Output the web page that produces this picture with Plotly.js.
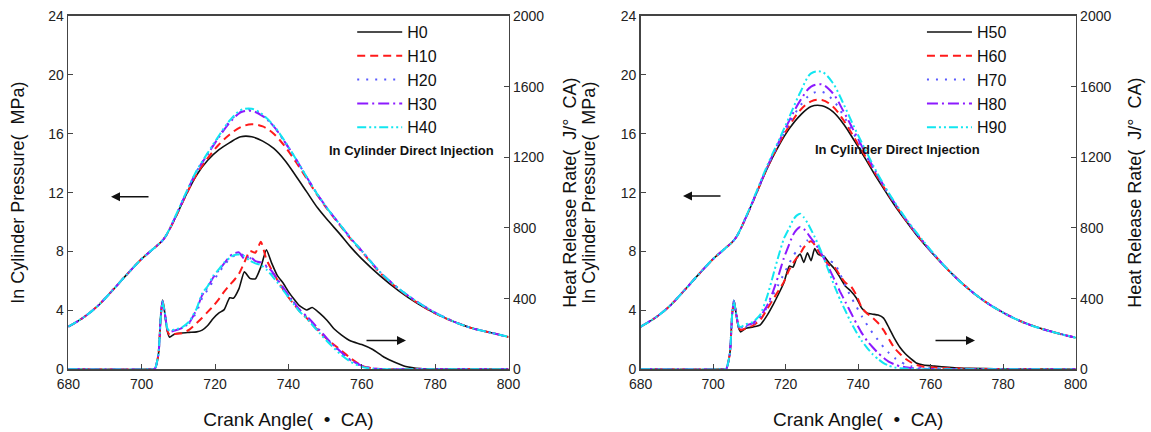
<!DOCTYPE html>
<html><head><meta charset="utf-8">
<script src="https://cdn.plot.ly/plotly-3.0.1.min.js"></script>
<style>html,body{margin:0;padding:0;background:#fff}#chart{width:1151px;height:432px}</style>
</head><body><div id="chart"></div>
<script>
// Crank angle samples for in-cylinder pressure (both panels)
const crankP = [680,684,688,692,696,700,703,706,709,712,715,718,721,724,727,730,733,736,739,742,745,748,751,754,757,760,765,770,775,780,785,790,795,800];
// Left panel pressure (MPa)
const pH0  = [2.9,3.5,4.3,5.35,6.45,7.5,8.15,8.85,10.2,11.8,13.2,14.2,14.9,15.4,15.8,15.8,15.5,15.0,14.2,13.15,12.05,10.95,10.05,9.2,8.3,7.5,6.35,5.35,4.5,3.8,3.25,2.8,2.5,2.2];
const pH10 = [2.9,3.5,4.3,5.35,6.45,7.5,8.15,8.85,10.2,11.8,13.25,14.35,15.25,15.95,16.45,16.65,16.5,16.0,15.15,14.1,12.95,11.8,10.75,9.8,8.85,8.0,6.55,5.45,4.55,3.8,3.25,2.8,2.5,2.2];
const pH20 = [2.9,3.5,4.3,5.35,6.45,7.5,8.15,8.85,10.25,11.9,13.45,14.65,15.8,16.85,17.5,17.65,17.25,16.5,15.45,14.3,13.05,11.85,10.8,9.85,8.9,8.05,6.6,5.5,4.6,3.85,3.25,2.8,2.5,2.2];
const pH30 = [2.9,3.5,4.3,5.35,6.45,7.5,8.15,8.85,10.25,11.9,13.45,14.6,15.75,16.75,17.45,17.55,17.2,16.5,15.45,14.3,13.05,11.85,10.8,9.85,8.9,8.05,6.6,5.5,4.6,3.85,3.25,2.8,2.5,2.2];
const pH40 = [2.9,3.5,4.3,5.35,6.45,7.5,8.15,8.85,10.3,11.95,13.5,14.7,15.85,16.9,17.6,17.7,17.3,16.55,15.5,14.3,13.05,11.85,10.8,9.85,8.9,8.05,6.6,5.5,4.6,3.85,3.25,2.8,2.5,2.2];
// Right panel pressure (MPa)
const pH50 = [2.9,3.5,4.3,5.35,6.45,7.5,8.15,8.85,10.3,12.0,13.7,15.15,16.35,17.25,17.85,17.9,17.5,16.65,15.5,14.3,13.05,11.9,10.8,9.8,8.85,8.0,6.7,5.55,4.6,3.85,3.25,2.8,2.45,2.15];
const pH60 = [2.9,3.5,4.3,5.35,6.45,7.5,8.15,8.85,10.3,12.0,13.75,15.25,16.55,17.6,18.2,18.3,17.85,16.9,15.7,14.45,13.2,12.0,10.9,9.85,8.9,8.05,6.7,5.55,4.6,3.85,3.25,2.8,2.45,2.15];
const pH70 = [2.9,3.5,4.3,5.35,6.45,7.5,8.15,8.85,10.3,12.0,13.75,15.3,16.7,17.9,18.7,18.85,18.3,17.2,15.9,14.6,13.3,12.05,10.95,9.9,8.95,8.05,6.7,5.55,4.6,3.85,3.25,2.8,2.45,2.15];
const pH80 = [2.9,3.5,4.3,5.35,6.45,7.5,8.15,8.85,10.3,12.05,13.8,15.4,16.9,18.25,19.2,19.35,18.75,17.5,16.1,14.7,13.35,12.1,10.95,9.9,8.95,8.05,6.7,5.55,4.6,3.85,3.25,2.8,2.45,2.15];
const pH90 = [2.9,3.5,4.3,5.35,6.45,7.5,8.15,8.85,10.35,12.1,13.9,15.5,17.15,18.8,20.1,20.2,19.45,18.0,16.4,14.9,13.45,12.15,11.0,9.95,9.0,8.1,6.7,5.55,4.6,3.85,3.25,2.8,2.45,2.15];

// Heat release rate (J/°CA), left panel
const crankHL = [680,702,703.6,704.6,705.2,705.7,706.3,707,707.6,709,711,713,715,716.5,718,719.5,721,722.5,724,725,726.5,728,729.5,731,732.5,734,735.5,737,738.5,740,741.5,743,745,746.5,748.5,750.5,752.5,754.5,757,760,763,766,769,772,776,780,800];
const hH0  = [0,0,3,90,300,392,320,215,182,200,206,209,212,222,248,288,318,338,405,402,455,552,515,512,580,676,598,530,490,440,398,360,336,350,318,278,228,194,160,140,112,70,40,16,4,1,0];
const hH10 = [0,0,3,90,300,388,318,220,195,200,204,225,262,292,325,358,396,440,478,500,540,605,670,660,722,622,560,505,455,408,368,330,290,255,212,172,138,105,62,20,5,1,0,0,0,0,0];
const hH20 = [0,0,3,90,300,385,320,230,215,222,235,262,325,405,450,500,545,590,625,640,652,645,630,615,600,580,545,505,462,420,380,340,295,262,217,172,130,92,50,18,4,1,0,0,0,0,0];
const hH30 = [0,0,3,90,300,386,320,228,212,220,233,265,340,420,465,520,560,600,640,655,662,625,640,612,605,585,555,510,465,420,378,338,300,268,222,175,133,95,52,20,5,1,0,0,0,0,0];
const hH40 = [0,0,3,90,300,384,320,232,218,225,238,272,345,430,470,530,565,605,630,645,650,640,615,600,590,565,530,492,450,408,368,328,288,252,205,160,118,80,42,14,3,1,0,0,0,0,0];

// Heat release rate (J/°CA), right panel
const crankHR = [680,702,703.6,704.6,705.2,705.7,706.3,707,707.6,709,711,713,715,716.5,718,719.5,721,722,723,724,725,726,727,728,729,730.5,732,733.5,735,736.5,738,739.5,741,742.5,744,745.5,747,748.5,750,751.5,753,754.5,756,758,761,765,770,780,800];
const hH50 = [0,0,3,90,300,390,320,235,212,232,240,252,310,365,425,490,585,578,628,652,605,660,615,683,650,640,602,568,520,470,442,404,345,318,312,307,290,235,175,125,88,60,36,24,18,12,6,2,0];
const hH60 = [0,0,3,90,300,388,320,238,222,232,248,280,345,395,445,495,565,600,630,655,690,715,725,705,670,625,590,578,530,490,470,420,348,315,292,262,222,170,120,88,60,40,25,15,10,6,3,1,0];
const hH70 = [0,0,3,90,300,388,320,240,228,240,255,295,355,420,480,540,600,640,670,695,715,730,740,720,690,640,615,600,540,470,410,355,300,250,205,165,125,92,65,44,28,18,12,8,5,3,1,0,0];
const hH80 = [0,0,3,90,300,388,320,245,235,248,262,300,365,440,530,630,710,760,790,805,795,770,742,715,685,630,570,505,440,380,320,260,205,160,125,92,65,42,28,18,12,8,5,3,2,1,0,0,0];
const hH90 = [0,0,3,90,300,388,320,248,240,255,268,310,420,530,640,740,800,845,870,881,860,830,790,750,705,630,548,470,395,330,265,210,160,120,85,58,35,20,11,6,4,2,1,0,0,0,0,0,0];

const namesL = ['H0','H10','H20','H30','H40'];
const namesR = ['H50','H60','H70','H80','H90'];
const colors = ['#111111','#ff1a1a','#5a5aff','#8c1aff','#12e6f0'];
const dashes = ['solid','8px,5px','2px,7px','11px,4px,2px,4px','9px,3px,2px,3px,2px,3px'];
const widths = [1.6,2,2,2,2];

const pL = [pH0,pH10,pH20,pH30,pH40];
const pR = [pH50,pH60,pH70,pH80,pH90];
const hL = [hH0,hH10,hH20,hH30,hH40];
const hR = [hH50,hH60,hH70,hH80,hH90];

const traces = [];
for (let i = 0; i < 5; i++) {
  traces.push({x: crankHL, y: hL[i], xaxis:'x', yaxis:'y2', type:'scatter', mode:'lines',
    line:{color:colors[i], dash:dashes[i], width:widths[i], shape:'spline', smoothing:0.5}, showlegend:false, hoverinfo:'skip'});
  traces.push({x: crankHR, y: hR[i], xaxis:'x2', yaxis:'y4', type:'scatter', mode:'lines',
    line:{color:colors[i], dash:dashes[i], width:widths[i], shape:'spline', smoothing:0.5}, showlegend:false, hoverinfo:'skip'});
}
for (let i = 0; i < 5; i++) {
  traces.push({x: crankP, y: pL[i], name: namesL[i], xaxis:'x', yaxis:'y', type:'scatter', mode:'lines',
    line:{color:colors[i], dash:dashes[i], width:widths[i], shape:'spline', smoothing:1}, legend:'legend'});
  traces.push({x: crankP, y: pR[i], name: namesR[i], xaxis:'x2', yaxis:'y3', type:'scatter', mode:'lines',
    line:{color:colors[i], dash:dashes[i], width:widths[i], shape:'spline', smoothing:1}, legend:'legend2'});
}

const tickFont = {family:'Liberation Sans, Arial, sans-serif', size:14, color:'#222'};
const titleFont = {family:'Liberation Sans, Arial, sans-serif', size:18, color:'#111'};
const xTitleFont = {family:'Liberation Sans, Arial, sans-serif', size:19, color:'#111'};
const axLine = {showline:true, linecolor:'#444', linewidth:1.6, ticks:'inside', ticklen:5, tickcolor:'#444',
  showgrid:false, zeroline:false, tickfont:tickFont};

const domY = [0.1451, 0.9630];
const layout = {
  width:1151, height:432, margin:{l:0,r:0,t:0,b:0}, paper_bgcolor:'#fff', plot_bgcolor:'#fff',
  showlegend:true,
  xaxis: Object.assign({}, axLine, {domain:[0.05934,0.44179], range:[680,800], tickvals:[680,700,720,740,760,780,800], mirror:true, anchor:'y',
    ticklabelstandoff:1, title:{text:'Crank Angle(  •  CA)', font:xTitleFont, standoff:22}}),
  yaxis: Object.assign({}, axLine, {domain:domY, range:[0,24], tickvals:[0,4,8,12,16,20,24], anchor:'x',
    title:{text:'In Cylinder Pressure(  MPa)', font:titleFont, standoff:19}}),
  yaxis2: Object.assign({}, axLine, {domain:domY, range:[0,2000], tickvals:[0,400,800,1200,1600,2000], overlaying:'y', side:'right', anchor:'x',
    title:{text:'Heat Release Rate(  J/°  CA)', font:titleFont, standoff:20}}),
  xaxis2: Object.assign({}, axLine, {domain:[0.55664,0.93458], range:[680,800], tickvals:[680,700,720,740,760,780,800], mirror:true, anchor:'y3',
    ticklabelstandoff:1, title:{text:'Crank Angle(  •  CA)', font:xTitleFont, standoff:22}}),
  yaxis3: Object.assign({}, axLine, {domain:domY, range:[0,24], tickvals:[0,4,8,12,16,20,24], anchor:'x2',
    title:{text:'In Cylinder Pressure(  MPa)', font:titleFont, standoff:20}}),
  yaxis4: Object.assign({}, axLine, {domain:domY, range:[0,2000], tickvals:[0,400,800,1200,1600,2000], overlaying:'y3', side:'right', anchor:'x2',
    title:{text:'Heat Release Rate(  J/°  CA)', font:titleFont, standoff:18}}),
  legend: {x:0.306, y:0.965, xanchor:'left', yanchor:'top', bgcolor:'rgba(0,0,0,0)', itemwidth:45, tracegroupgap:0,
    font:{family:'Liberation Sans, Arial, sans-serif', size:16, color:'#111'}},
  legend2: {x:0.801, y:0.965, xanchor:'left', yanchor:'top', bgcolor:'rgba(0,0,0,0)', itemwidth:45, tracegroupgap:0,
    font:{family:'Liberation Sans, Arial, sans-serif', size:16, color:'#111'}},
  annotations: [
    {text:'<b>In Cylinder Direct Injection</b>', xref:'paper', yref:'paper', x:0.3575, y:0.6505, showarrow:false,
      font:{family:'Liberation Sans, Arial, sans-serif', size:13, color:'#111'}},
    {text:'<b>In Cylinder Direct Injection</b>', xref:'paper', yref:'paper', x:0.8532, y:0.655, showarrow:false,
      font:{family:'Liberation Sans, Arial, sans-serif', size:13, color:'#111'}},
    {text:'', xref:'paper', yref:'paper', x:111/1151, y:0.5447, ax:39, ay:0, showarrow:true, arrowhead:2, arrowsize:1.2, arrowwidth:1.5, arrowcolor:'#111'},
    {text:'', xref:'paper', yref:'paper', x:406/1151, y:0.2116, ax:-41, ay:0, showarrow:true, arrowhead:2, arrowsize:1.2, arrowwidth:1.5, arrowcolor:'#111'},
    {text:'', xref:'paper', yref:'paper', x:683/1151, y:0.5463, ax:39, ay:0, showarrow:true, arrowhead:2, arrowsize:1.2, arrowwidth:1.5, arrowcolor:'#111'},
    {text:'', xref:'paper', yref:'paper', x:975/1151, y:0.2116, ax:-41, ay:0, showarrow:true, arrowhead:2, arrowsize:1.2, arrowwidth:1.5, arrowcolor:'#111'}
  ]
};

Plotly.newPlot('chart', traces, layout, {staticPlot:true, displayModeBar:false});
</script>
</body></html>
